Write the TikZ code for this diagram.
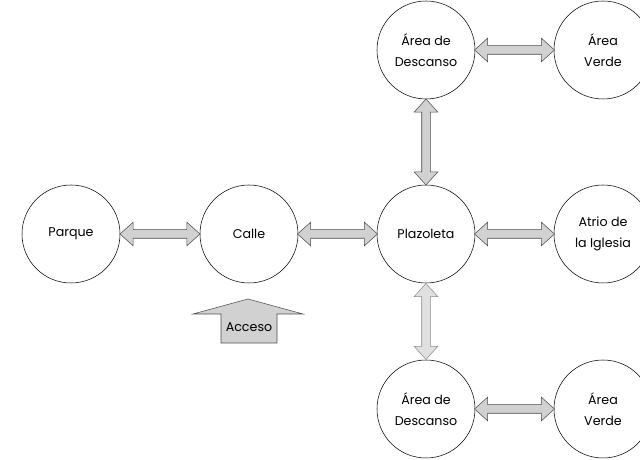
\documentclass[tikz,border=0pt]{standalone}
\usepackage{fontspec}
\setmainfont{Poppins}
\usetikzlibrary{shapes.arrows}
\tikzset{
  lugar/.style={circle,draw,minimum size=73.5pt,inner sep=0pt,align=center,font=\fontsize{9.5}{15.5}\selectfont},
  flecha/.style={double arrow,draw=black!70,fill=black!18,inner sep=0pt,inner ysep=3pt,double arrow head extend=5.6pt,double arrow tip angle=84,sloped,midway},
  flechaclara/.style={flecha,draw=black!45,fill=black!12}
}
\begin{document}
\begin{tikzpicture}[x=0.75pt,y=0.75pt]
    \useasboundingbox (0,0) rectangle (640,460);
    \node[lugar] at (71,226) (parque) {Parque};
    \node[lugar] at (249,226) (calle) {Calle};
    \node[lugar] at (426,226) (plaza) {Plazoleta};
    \node[lugar] at (603,226) (atrio) {Atrio de\\la Iglesia};
    \node[lugar] at (426,410) (desc1) {Área de\\Descanso};
    \node[lugar] at (603,410) (verde1) {Área\\Verde};
    \node[lugar] at (426,51) (desc2) {Área de\\Descanso};
    \node[lugar] at (603,51) (verde2) {Área\\Verde};
    \path (parque) -- node[flecha,minimum height=60pt] {} (calle);
    \path (calle) -- node[flecha,minimum height=60pt] {} (plaza);
    \path (plaza) -- node[flecha,minimum height=60pt] {} (atrio);
    \path (desc1) -- node[flecha,minimum height=60pt] {} (verde1);
    \path (desc2) -- node[flecha,minimum height=60pt] {} (verde2);
    \path (desc1) -- node[flecha,minimum height=64.5pt] {} (plaza);
    \path (plaza) -- node[flechaclara,minimum height=57pt] {} (desc2);
    \draw[draw=black!70,fill=black!18] (248,161) -- (303,146) -- (277,146) -- (277,117) -- (221,117) -- (221,146) -- (193,146) -- cycle;
    \node[font=\fontsize{9.5}{10}\selectfont] at (249,133) (acceso) {Acceso};
\end{tikzpicture}
\end{document}
